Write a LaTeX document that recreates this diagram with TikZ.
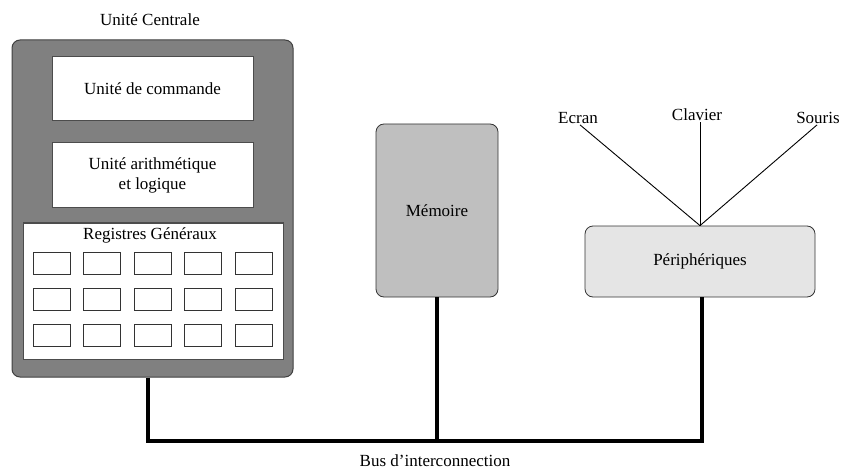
\documentclass[tikz,border=0pt]{standalone}
\usepackage{fontspec}
\setmainfont{Liberation Serif}
\newfontfamily\diagfont{Liberation Serif}
\begin{document}
\begin{tikzpicture}[x=1pt,y=-1pt,
  every node/.style={font=\diagfont\fontsize{17}{19.5}\selectfont, inner sep=0pt},
  outerbox/.style={draw=black!75, line width=1pt, fill=black!50, rounded corners=8pt},
  unitbox/.style={draw=black!70, line width=1pt, fill=white},
  regbox/.style={draw=black!80, line width=0.8pt, fill=white, minimum width=37pt, minimum height=22pt},
  membox/.style={draw=black!80, line width=0.8pt, fill=black!25, rounded corners=8pt},
  peribox/.style={draw=black!80, line width=0.8pt, fill=black!10, rounded corners=8pt},
  bus/.style={line width=3.5pt, black},
  wire/.style={line width=0.9pt, black}]
\useasboundingbox (0,0) rectangle (842,470);
% CPU
\node[outerbox, minimum width=281pt, minimum height=337pt] (cpu) at (152.5,208.5) {};
\node (cputitle) at (150,20) {Unité Centrale};
\node[unitbox, minimum width=201pt, minimum height=64pt] (cmd) at (152.5,89) {Unité de commande};
\node[unitbox, minimum width=201pt, minimum height=65pt, align=center] (alu) at (152.5,175.5) {Unité arithmétique\\[0pt]et logique};
\node[unitbox, minimum width=260pt, minimum height=136pt] (regs) at (153,291) {};
\node (regtitle) at (150,235) {Registres Généraux};
\foreach \i in {0,...,4}{
  \foreach \j in {0,...,2}{
    \node[regbox] (r-\i-\j) at ({51.5+50.5*\i},{263+36*\j}) {};
  }
}
% Memory
\node[membox, minimum width=122pt, minimum height=173pt] (mem) at (437,210.5) {Mémoire};
% Peripherals
\node[peribox, minimum width=230pt, minimum height=71pt] (peri) at (700,261.5) {Périphériques};
\node (ecran) at (578,118) {Ecran};
\node (clavier) at (697,115) {Clavier};
\node (souris) at (818,118) {Souris};
\draw[wire] (peri.north) -- ([xshift=2pt,yshift=-1pt]ecran.south);
\draw[wire] (peri.north) -- ([yshift=-1pt]peri.north |- clavier.south);
\draw[wire] (peri.north) -- ([xshift=-1pt,yshift=-1pt]souris.south);
% Bus
\coordinate (busL) at (148,441);
\coordinate (busR) at (702,441);
\draw[bus] (cpu.south -| busL) -- (busL) -- (busR) -- (peri.south -| busR);
\draw[bus] (mem.south) -- (mem.south |- busL);
\node (buslabel) at (435,460.5) {Bus d’interconnection};
\end{tikzpicture}
\end{document}
